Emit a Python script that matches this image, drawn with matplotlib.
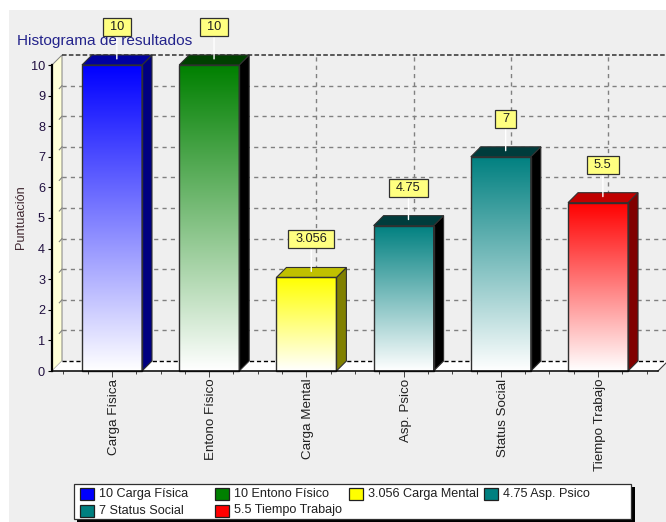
import numpy as np
import matplotlib
matplotlib.use('Agg')
import matplotlib.pyplot as plt
from matplotlib.colors import LinearSegmentedColormap
from matplotlib.patches import Polygon, Rectangle
from matplotlib.path import Path
from matplotlib.transforms import ScaledTranslation

plt.rcParams['font.family'] = ['Liberation Sans', 'DejaVu Sans']

categorias = ['Carga Física', 'Entono Físico', 'Carga Mental', 'Asp. Psico', 'Status Social', 'Tiempo Trabajo']
valores = [10, 10, 3.056, 4.75, 7, 5.5]
frente = ['#0000FF', '#008000', '#FFFF00', '#008080', '#008080', '#FF0000']
lado = ['#000080', '#000000', '#808000', '#000000', '#000000', '#800000']
tapa = ['#0000A0', '#004000', '#C0C000', '#003C3C', '#003C3C', '#C00000']
yticks = list(range(11))

W, H = 666, 522
fig = plt.figure(figsize=(W / 100, H / 100), dpi=100, facecolor='white')


def caja(x, y, w, h, mutation_size):
    # caja de la etiqueta: mas relleno a los lados que arriba y abajo
    x, y, w, h = x - 7, y + h / 2 - 9, w + 14, 18
    return Path([(x, y), (x + w, y), (x + w, y + h), (x, y + h), (x, y)], closed=True)


# fondo y leyenda en pixeles
bg = fig.add_axes([0, 0, 1, 1], zorder=0)
bg.set_xlim(0, W)
bg.set_ylim(H, 0)
bg.axis('off')
bg.add_patch(Rectangle((9, 10), W - 9, H - 10, fc='#EFEFEF', ec='none'))
bg.text(17, 40.5, 'Histograma de resultados', color='#24248C', fontsize=11.1, va='center', ha='left')
bg.text(21, 217, 'Puntuación', color='#402830', fontsize=9.2, rotation=90, va='center', ha='center')

# ejes principales
ax = fig.add_axes([52 / W, 1 - 371 / H, 606 / W, 306 / H], zorder=1)
ax.patch.set_alpha(0)
x0, x1 = -0.617, 5.617
DX = 10 / 97.2
DY = 10 / 30.6
y1 = 10.0

# pared izquierda y suelo
ax.add_patch(Polygon([(x0, 0), (x0 + DX, DY), (x0 + DX, y1 + DY), (x0, y1)], fc='#FFFFD8', ec='#808080', lw=0.7, clip_on=False, zorder=1))
ax.add_patch(Polygon([(x0, 0), (x0 + DX, DY), (x1 + DX, DY), (x1, 0)], fc='white', ec='none', clip_on=False, zorder=1))
ax.plot([x1, x1 + DX], [0, DY], color='#404040', lw=0.8, clip_on=False, zorder=2)

# rejilla
for v in yticks[1:-1]:
    ax.plot([x0 + DX, x1 + DX], [v + DY, v + DY], color='#808080', lw=1.0, dashes=(3, 3), clip_on=False, zorder=2)
    ax.plot([x0 + 0.075, x0 + DX], [v + DY * 0.7, v + DY], color='#808080', lw=0.8, clip_on=False, zorder=2)
ax.plot([x0 + DX, x1 + DX], [y1 + DY, y1 + DY], color='#303030', lw=1.1, dashes=(3, 1.5), clip_on=False, zorder=2)
ax.plot([x0 + DX, x1 + DX], [DY, DY], color='black', lw=1.0, dashes=(3, 2), clip_on=False, zorder=2)
for i in range(len(categorias)):
    ax.plot([i + DX, i + DX], [DY, y1 + DY], color='#808080', lw=1.0, dashes=(3, 3), clip_on=False, zorder=2)

# barras
ancho = 30 / 97.2
for i, v in enumerate(valores):
    cm = LinearSegmentedColormap.from_list('g', [frente[i], 'white'])
    ax.imshow(np.linspace(0, 1, 256).reshape(-1, 1), cmap=cm, extent=(i - ancho, i + ancho, 0, v),
              aspect='auto', origin='upper', zorder=3, clip_on=False)
    ax.add_patch(Rectangle((i - ancho, 0), 2 * ancho, v, fc='none', ec='#303030', lw=1.0, zorder=4, clip_on=False))
    ax.add_patch(Polygon([(i + ancho, 0), (i + ancho + DX, DY), (i + ancho + DX, v + DY), (i + ancho, v)],
                         fc=lado[i], ec='#303030', lw=0.8, zorder=3, clip_on=False))
    ax.add_patch(Polygon([(i - ancho, v), (i - ancho + DX, v + DY), (i + ancho + DX, v + DY), (i + ancho, v)],
                         fc=tapa[i], ec='#303030', lw=0.8, zorder=3, clip_on=False))

    # etiqueta con su conector
    ax.annotate('', xy=(i + 0.05, v + 0.2), xytext=(i + 0.05, v + 38 / 30.6),
                arrowprops=dict(arrowstyle='-', color='white', lw=1.0, shrinkA=0, shrinkB=0),
                annotation_clip=False, zorder=5)
    ax.text(i + 0.05, v + 38 / 30.6, '%g' % v, ha='center', va='center', fontsize=9.2, color='#202020', zorder=6,
            clip_on=False, bbox=dict(boxstyle=caja, fc='#FFFF80', ec='#303030', lw=0.9))

ax.set_xlim(x0, x1)
ax.set_ylim(0, 10)
ax.set_yticks(yticks)
ax.set_xticks(range(len(categorias)))
ax.set_xticklabels(categorias, rotation=90, fontsize=9.6, color='#202020')
ax.set_xticks(np.arange(-0.5, 5.75, 0.25), minor=True)
ax.tick_params(axis='y', labelsize=9.2, labelcolor='#201040', length=3, width=0.8, pad=2)
ax.tick_params(axis='x', which='major', length=4, width=0.7, color='#404040', pad=1.5)
ax.tick_params(axis='x', which='minor', length=2.5, width=0.7, color='#404040')
# las etiquetas giradas quedan un poco a la izquierda
desplaza = ScaledTranslation(1.5 / 72, 0, fig.dpi_scale_trans)
for t in ax.get_xticklabels():
    t.set_transform(t.get_transform() + desplaza)
for s in ['top', 'right']:
    ax.spines[s].set_visible(False)
ax.spines['left'].set_linewidth(1.6)
ax.spines['left'].set_zorder(7)
ax.spines['bottom'].set_linewidth(1.1)
ax.spines['bottom'].set_zorder(7)

# leyenda
lg = fig.add_axes([0, 0, 1, 1], zorder=2)
lg.set_xlim(0, W)
lg.set_ylim(H, 0)
lg.axis('off')
lg.add_patch(Rectangle((77, 487), 558, 36, fc='black', ec='none', clip_on=False))
lg.add_patch(Rectangle((74, 484), 557, 35, fc='white', ec='#303030', lw=0.9))
for i, (c, v) in enumerate(zip(categorias, valores)):
    col, fila = i % 4, i // 4
    xs = 80 + col * 134.6
    ys = 494 + fila * 16.5
    lg.add_patch(Rectangle((xs, ys - 6), 14, 12, fc=frente[i], ec='#202020', lw=0.9))
    lg.text(xs + 19, ys, '%g %s' % (v, c), fontsize=9.1, color='#202020', va='center', ha='left')

fig.savefig('out.png', dpi=100)
